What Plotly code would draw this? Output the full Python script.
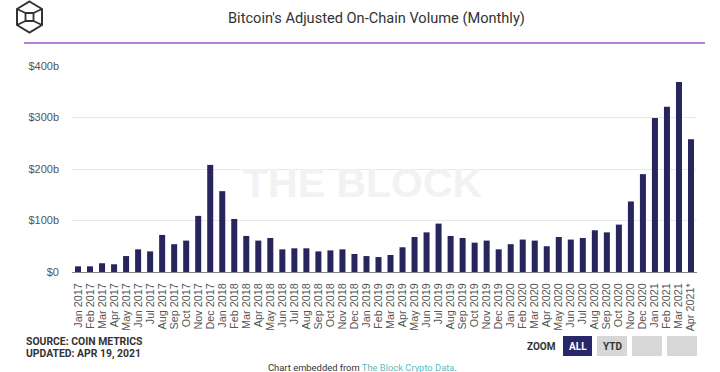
import plotly.graph_objects as go

months = ["Jan", "Feb", "Mar", "Apr", "May", "Jun", "Jul", "Aug", "Sep", "Oct", "Nov", "Dec"]
categories = [f"{m} {y}" for y in range(2017, 2021) for m in months] + ["Jan 2021", "Feb 2021", "Mar 2021", "Apr 2021*"]

volume_b = [11, 11, 17, 15, 31, 44, 40, 72, 54, 61, 109, 208,
            157, 103, 70, 61, 66, 44, 46, 46, 40, 42, 44, 35,
            31, 29, 33, 48, 68, 77, 94, 70, 66, 57, 61, 44,
            54, 63, 61, 50, 68, 63, 66, 81, 77, 92, 137, 190,
            299, 321, 369, 258]

y_ticks = [0, 100, 200, 300, 400]
y_tick_labels = ["$0", "$100b", "$200b", "$300b", "$400b"]

W, H = 720, 372
ML, MR, MT, MB = 72, 23, 66, 100
PW, PH = W - ML - MR, H - MT - MB


def px(x):
    return (x - ML) / PW


def py(y):
    return (H - MB - y) / PH


fig = go.Figure()
fig.add_trace(go.Bar(
    x=categories, y=volume_b,
    marker=dict(color="#27255c", line=dict(width=0)),
    hoverinfo="x+y",
))

shapes = []
annotations = []

# watermark
annotations.append(dict(x=px(363), y=py(183), xref="paper", yref="paper", text="<b>THE BLOCK</b>",
                        showarrow=False, font=dict(family="Liberation Sans, Arial", size=41, color="#f2f2f2"),
                        xanchor="center", yanchor="middle"))

# title
annotations.append(dict(x=px(376), y=py(18), xref="paper", yref="paper",
                        text="Bitcoin's Adjusted On-Chain Volume (Monthly)", showarrow=False,
                        font=dict(family="Roboto", size=14.6, color="#333333"),
                        xanchor="center", yanchor="middle"))

# purple rule
shapes.append(dict(type="line", xref="paper", yref="paper", x0=px(24), x1=px(705), y0=py(43), y1=py(43),
                   line=dict(color="#b77fe0", width=2)))

# logo
hexpts = [(29.5, 1.5), (42, 9), (42, 25), (29.5, 32.5), (17, 25), (17, 9)]
path = "M " + " L ".join(f"{px(a)},{py(b)}" for a, b in hexpts) + " Z"
shapes.append(dict(type="path", xref="paper", yref="paper", path=path, line=dict(color="#333333", width=2)))
sq = [(25.5, 13), (33.5, 13), (33.5, 21), (25.5, 21)]
path = "M " + " L ".join(f"{px(a)},{py(b)}" for a, b in sq) + " Z"
shapes.append(dict(type="path", xref="paper", yref="paper", path=path, line=dict(color="#333333", width=1.8)))
for (a, b), (c, d) in [((17, 9), (25.5, 13)), ((42, 9), (33.5, 13)), ((17, 25), (25.5, 21)), ((42, 25), (33.5, 21))]:
    shapes.append(dict(type="line", xref="paper", yref="paper", x0=px(a), y0=py(b), x1=px(c), y1=py(d),
                       line=dict(color="#333333", width=1.8)))

# source
annotations.append(dict(x=px(24), y=py(341), xref="paper", yref="paper", text="<b>SOURCE: COIN METRICS</b>",
                        showarrow=False, font=dict(family="Roboto", size=10.4, color="#333333"),
                        xanchor="left", yanchor="middle"))
annotations.append(dict(x=px(24), y=py(353), xref="paper", yref="paper", text="<b>UPDATED: APR 19, 2021</b>",
                        showarrow=False, font=dict(family="Roboto", size=10.4, color="#333333"),
                        xanchor="left", yanchor="middle"))

# zoom buttons
annotations.append(dict(x=px(558), y=py(346), xref="paper", yref="paper", text="<b>ZOOM</b>",
                        showarrow=False, font=dict(family="Roboto", size=10, color="#333333"),
                        xanchor="right", yanchor="middle"))
buttons = [(563, 592, "#29276a", "ALL", "#ffffff"), (597, 627, "#d7d7d7", "YTD", "#333333"),
           (632, 662, "#d7d7d7", "", "#333333"), (667, 697, "#d7d7d7", "", "#333333")]
for x0, x1, fc, t, tc in buttons:
    shapes.append(dict(type="rect", xref="paper", yref="paper", x0=px(x0), x1=px(x1), y0=py(356), y1=py(336),
                       fillcolor=fc, line=dict(width=0)))
    if t:
        annotations.append(dict(x=px((x0 + x1) / 2), y=py(346), xref="paper", yref="paper", text=f"<b>{t}</b>",
                                showarrow=False, font=dict(family="Roboto", size=10, color=tc),
                                xanchor="center", yanchor="middle"))

# footer
annotations.append(dict(x=px(362), y=py(367), xref="paper", yref="paper",
                        text="Chart embedded from <span style='color:#5cbcbc'>The Block Crypto Data</span>.",
                        showarrow=False, font=dict(family="Roboto", size=9.4, color="#333333"),
                        xanchor="center", yanchor="middle"))

fig.update_layout(
    width=W, height=H,
    margin=dict(l=ML, r=MR, t=MT, b=MB, pad=0, autoexpand=False),
    paper_bgcolor="white", plot_bgcolor="white",
    bargap=0.5, showlegend=False,
    shapes=shapes, annotations=annotations,
    xaxis=dict(
        type="category", range=[-0.5, len(categories) - 0.5],
        tickmode="array", tickvals=categories, ticktext=categories,
        tickangle=-90, tickfont=dict(family="Liberation Sans, Arial", size=10.8, color="#555555"),
        showgrid=False, showline=True, linecolor="#888888", linewidth=1,
        ticks="", ticklabelstandoff=6, fixedrange=True, automargin=False,
    ),
    yaxis=dict(
        range=[0, 400], tickvals=y_ticks, ticktext=y_tick_labels,
        tickfont=dict(family="Liberation Sans, Arial", size=11, color="#555555"),
        showgrid=True, gridcolor="#e8e8e8", gridwidth=1, zeroline=False,
        ticks="", ticklabelstandoff=12, fixedrange=True, automargin=False,
    ),
)

fig.write_html("out.html", config={"displayModeBar": False},
               post_script="document.body.style.margin='0';document.body.style.overflow='hidden';")
